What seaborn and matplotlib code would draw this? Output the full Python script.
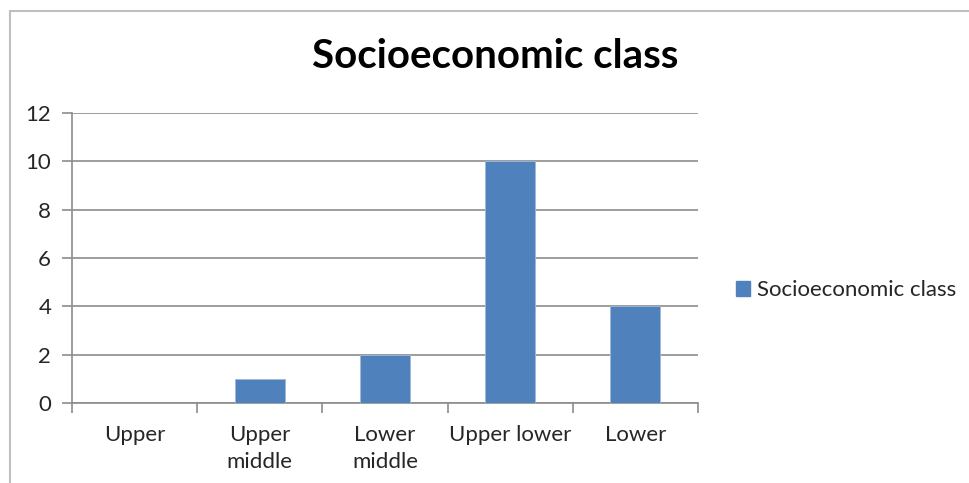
import matplotlib
matplotlib.use("Agg")
import matplotlib.pyplot as plt
import seaborn as sns
import pandas as pd
from matplotlib.patches import Rectangle, Patch
from matplotlib.ticker import FixedLocator

categories = ["Upper", "Upper\nmiddle", "Lower\nmiddle", "Upper lower", "Lower"]
counts = [0, 1, 2, 10, 4]
series_name = "Socioeconomic class"
y_ticks = [0, 2, 4, 6, 8, 10, 12]

sns.set_theme(style="white")
plt.rcParams["font.family"] = ["Lato", "DejaVu Sans"]

bar_color = "#4F81BD"
grid_color = "#8C8C8C"

df = pd.DataFrame({"category": categories, "count": counts})

fig = plt.figure(figsize=(9.69, 4.83), dpi=100)
ax = fig.add_axes([72 / 969, 1 - 403 / 483, (698 - 72) / 969, (403 - 113) / 483])

sns.barplot(data=df, x="category", y="count", color=bar_color, width=0.4,
            saturation=1, edgecolor="#9DB8DA", linewidth=0.6, ax=ax, zorder=3)

ax.set_xlim(-0.5, len(categories) - 0.5)
ax.set_ylim(0, 12)
ax.set_yticks(y_ticks)
ax.yaxis.grid(True, color=grid_color, linewidth=1.2, zorder=0)
ax.set_axisbelow(True)

for side in ["top", "right"]:
    ax.spines[side].set_visible(False)
for side in ["left", "bottom"]:
    ax.spines[side].set_color(grid_color)
    ax.spines[side].set_linewidth(1.2)

ax.tick_params(axis="y", direction="out", length=7, width=1.2, color=grid_color,
               labelsize=16, pad=8, left=True)
ax.tick_params(axis="x", which="major", length=0, labelsize=16, pad=16)
ax.xaxis.set_minor_locator(FixedLocator([i - 0.5 for i in range(len(categories) + 1)]))
ax.tick_params(axis="x", which="minor", direction="out", length=7, width=1.2,
               color=grid_color, bottom=True)
for lbl in ax.get_xticklabels():
    lbl.set_linespacing(1.45)
    lbl.set_verticalalignment("top")
ax.set_xlabel("")
ax.set_ylabel("")

fig.text(495 / 969, 1 - 57 / 483, series_name, ha="center", va="center",
         fontsize=29, fontweight="bold", color="black")

handle = Patch(facecolor=bar_color, edgecolor=bar_color)
fig.legend([handle], [series_name], loc="center left",
           bbox_to_anchor=(716 / 969, 1 - 290 / 483), frameon=False, fontsize=16,
           handlelength=0.65, handleheight=0.65, handletextpad=0.3)

fig.patches.append(Rectangle((10 / 969, -0.2), 2, 1.2 - 11 / 483, transform=fig.transFigure,
                             fill=False, edgecolor="#BFBFBF", linewidth=1.5))

fig.savefig("out.png", dpi=100)
